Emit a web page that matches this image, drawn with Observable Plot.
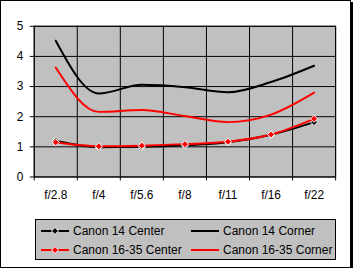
<!DOCTYPE html>
<html>
<head>
<meta charset="utf-8">
<script src="https://cdn.jsdelivr.net/npm/d3@7"></script>
<script src="https://cdn.jsdelivr.net/npm/@observablehq/plot@0.6"></script>
<style>
  html, body { margin: 0; padding: 0; background: white; }
  #wrap { position: relative; width: 351px; height: 268px; box-sizing: border-box; border: 1px solid black; box-shadow: 2px 2px 0 black; overflow: visible; font-family: "Liberation Sans", Arial, sans-serif; }
  #chart { position: absolute; left: -1px; top: -1px; }
  #legend { position: absolute; left: 34px; top: 218px; width: 301px; height: 41px; box-sizing: border-box; border: 1px solid black; background: #C0C0C0; font-size: 12px; }
  .item { position: absolute; height: 18px; display: flex; align-items: center; white-space: nowrap; }
  .item svg { display: block; margin-right: 4px; }
</style>
</head>
<body>
<div id="wrap"><div id="chart"></div><div id="legend"></div></div>
<script>
const stops = ["f/2.8", "f/4", "f/5.6", "f/8", "f/11", "f/16", "f/22"];
const canon14Center   = [1.20, 0.99, 1.00, 1.05, 1.15, 1.40, 1.82];
const canon14Corner   = [4.52, 2.77, 3.06, 2.98, 2.81, 3.15, 3.69];
const canon1635Center = [1.15, 1.02, 1.04, 1.09, 1.17, 1.41, 1.93];
const canon1635Corner = [3.63, 2.16, 2.22, 2.02, 1.82, 2.07, 2.80];
const yTicks = [0, 1, 2, 3, 4, 5];

const seriesNames = ["Canon 14 Center", "Canon 14 Corner", "Canon 16-35 Center", "Canon 16-35 Corner"];
const seriesVals = [canon14Center, canon14Corner, canon1635Center, canon1635Corner];
const seriesColor = ["#000000", "#000000", "#FF0000", "#FF0000"];
const seriesMarker = [true, false, true, false];

const rows = [];
seriesNames.forEach((name, s) => seriesVals[s].forEach((v, i) => rows.push({series: name, i, stop: stops[i], v})));

const idx = d3.range(stops.length);
const bounds = d3.range(stops.length + 1).map(k => k - 0.5);

const marks = [
  Plot.frame({fill: "#C0C0C0", stroke: "none"}),
  Plot.gridY({ticks: yTicks, stroke: "black", strokeOpacity: 1, strokeWidth: 1}),
  Plot.gridX({ticks: bounds, stroke: "black", strokeOpacity: 1, strokeWidth: 1}),
  Plot.frame({stroke: "black", strokeWidth: 1}),
  Plot.axisY({ticks: yTicks, tickSize: 4, tickPadding: 7, tickFormat: d => String(d), label: null, stroke: "black"}),
  Plot.axisX({ticks: bounds, tickSize: 4, tickFormat: () => "", label: null, stroke: "black"}),
  Plot.axisX({ticks: idx, tickSize: 0, tickPadding: 14, tickFormat: i => stops[i], label: null})
];
seriesNames.forEach((name, s) => {
  const data = rows.filter(r => r.series === name);
  marks.push(Plot.line(data, {x: "i", y: "v", stroke: seriesColor[s], strokeWidth: 2, curve: "monotone-x"}));
  if (seriesMarker[s]) {
    marks.push(Plot.dot(data, {x: "i", y: "v", symbol: "diamond2", r: 3.2, fill: seriesColor[s], stroke: "white", strokeWidth: 1}));
  }
});

const chart = Plot.plot({
  width: 353,
  height: 270,
  marginLeft: 34,
  marginRight: 15,
  marginTop: 26,
  marginBottom: 92,
  x: {type: "linear", domain: [-0.5, stops.length - 0.5]},
  y: {domain: [0, 5]},
  style: {fontFamily: "Liberation Sans, Arial, sans-serif", fontSize: "12px", color: "black", background: "transparent", overflow: "visible"},
  marks
});
document.getElementById("chart").appendChild(chart);

const legend = document.getElementById("legend");
const pos = [[5, 2], [155, 2], [5, 21], [155, 21]];
const legendOrder = [0, 1, 2, 3];
legendOrder.forEach((s, k) => {
  const item = document.createElement("div");
  item.className = "item";
  item.style.left = pos[k][0] + "px";
  item.style.top = pos[k][1] + "px";
  const ns = "http://www.w3.org/2000/svg";
  const svg = document.createElementNS(ns, "svg");
  svg.setAttribute("width", 28); svg.setAttribute("height", 10);
  const ln = document.createElementNS(ns, "line");
  ln.setAttribute("x1", 0); ln.setAttribute("x2", 28); ln.setAttribute("y1", 5); ln.setAttribute("y2", 5);
  ln.setAttribute("stroke", seriesColor[s]); ln.setAttribute("stroke-width", 2);
  svg.appendChild(ln);
  if (seriesMarker[s]) {
    const p = document.createElementNS(ns, "path");
    p.setAttribute("d", "M14,1.5L17.5,5L14,8.5L10.5,5Z");
    p.setAttribute("fill", seriesColor[s]); p.setAttribute("stroke", "white"); p.setAttribute("stroke-width", 1);
    svg.appendChild(p);
  }
  item.appendChild(svg);
  const t = document.createElement("span");
  t.textContent = seriesNames[s];
  item.appendChild(t);
  legend.appendChild(item);
});
</script>
</body>
</html>
